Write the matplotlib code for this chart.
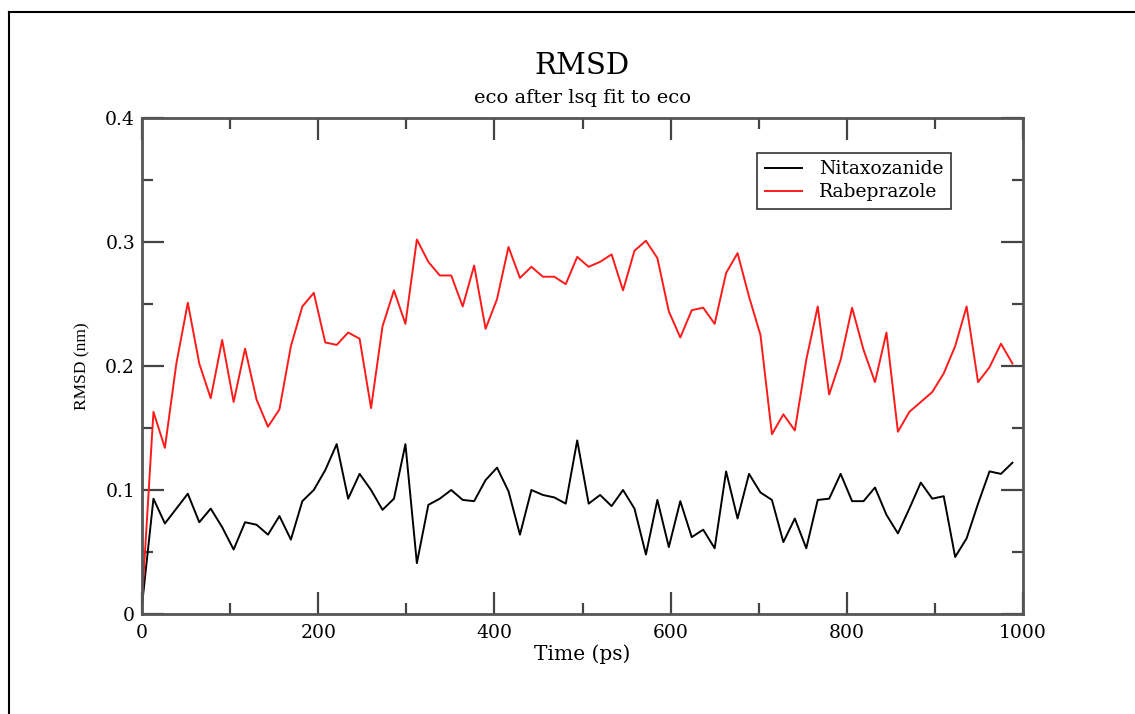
import numpy as np
import matplotlib.pyplot as plt
from matplotlib.lines import Line2D
from matplotlib.ticker import FixedLocator

plt.rcParams['font.family'] = ['DejaVu Serif']

# frames written every 13 ps
time_ps = np.arange(0, 989, 13)

nitaxozanide = [
    0.007, 0.093, 0.073, 0.085, 0.097, 0.074, 0.085, 0.070, 0.052, 0.074,
    0.072, 0.064, 0.079, 0.060, 0.091, 0.100, 0.116, 0.137, 0.093, 0.113,
    0.100, 0.084, 0.093, 0.137, 0.041, 0.088, 0.093, 0.100, 0.092, 0.091,
    0.108, 0.118, 0.099, 0.064, 0.100, 0.096, 0.094, 0.089, 0.140, 0.089,
    0.096, 0.087, 0.100, 0.085, 0.048, 0.092, 0.054, 0.091, 0.062, 0.068,
    0.053, 0.115, 0.077, 0.113, 0.098, 0.092, 0.058, 0.077, 0.053, 0.092,
    0.093, 0.113, 0.091, 0.091, 0.102, 0.080, 0.065, 0.085, 0.106, 0.093,
    0.095, 0.046, 0.061, 0.089, 0.115, 0.113, 0.122,
]

rabeprazole = [
    0.010, 0.163, 0.134, 0.202, 0.251, 0.202, 0.174, 0.221, 0.171, 0.214,
    0.173, 0.151, 0.165, 0.216, 0.248, 0.259, 0.219, 0.217, 0.227, 0.222,
    0.166, 0.232, 0.261, 0.234, 0.302, 0.284, 0.273, 0.273, 0.248, 0.281,
    0.230, 0.254, 0.296, 0.271, 0.280, 0.272, 0.272, 0.266, 0.288, 0.280,
    0.284, 0.290, 0.261, 0.293, 0.301, 0.287, 0.244, 0.223, 0.245, 0.247,
    0.234, 0.275, 0.291, 0.256, 0.225, 0.145, 0.161, 0.148, 0.205, 0.248,
    0.177, 0.205, 0.247, 0.213, 0.187, 0.227, 0.147, 0.163, 0.171, 0.179,
    0.194, 0.216, 0.248, 0.187, 0.199, 0.218, 0.202,
]

x_ticks = [0, 200, 400, 600, 800, 1000]
x_minor = [100, 300, 500, 700, 900]
y_ticks = [0, 0.1, 0.2, 0.3, 0.4]
y_tick_labels = ['0', '0.1', '0.2', '0.3', '0.4']
y_minor = [0.05, 0.15, 0.25, 0.35]

W, H = 1135, 714
fig = plt.figure(figsize=(W / 100, H / 100), dpi=100)
ax = fig.add_axes([142 / W, 1 - 614 / H, (1023 - 142) / W, (614 - 118) / H])

ax.plot(time_ps, nitaxozanide, color='black', lw=1.4, label='Nitaxozanide')
ax.plot(time_ps, rabeprazole, color='#ff1a1a', lw=1.4, label='Rabeprazole')

ax.set_xlim(0, 1000)
ax.set_ylim(0, 0.4)
ax.set_xticks(x_ticks)
ax.set_xticklabels([str(t) for t in x_ticks])
ax.xaxis.set_minor_locator(FixedLocator(x_minor))
ax.set_yticks(y_ticks)
ax.set_yticklabels(y_tick_labels)
ax.yaxis.set_minor_locator(FixedLocator(y_minor))

for side in ax.spines.values():
    side.set_color('#555555')
    side.set_linewidth(2)
ax.tick_params(which='both', direction='in', top=True, right=True,
               color='#444444', width=1.6)
ax.tick_params(which='major', length=16, labelsize=13.5)
ax.tick_params(which='minor', length=8)
ax.tick_params(axis='x', pad=7)
ax.tick_params(axis='y', pad=5)

ax.set_xlabel('Time (ps)', fontsize=14.5, labelpad=2)
ax.set_ylabel('RMSD (nm)', fontsize=12.5, family='Liberation Serif', labelpad=11)

fig.text(582 / W, 1 - 66 / H, 'RMSD', ha='center', va='center', fontsize=21)
fig.text(582 / W, 1 - 98 / H, 'eco after lsq fit to eco', ha='center',
         va='center', fontsize=14)

leg = ax.legend(loc='upper left', bbox_to_anchor=(757 / W, 1 - 153 / H),
                bbox_transform=fig.transFigure, borderaxespad=0,
                fontsize=13.5, fancybox=False, framealpha=1,
                edgecolor='#333333', handlelength=2.0, handletextpad=0.9,
                labelspacing=0.25, borderpad=0.4)
leg.get_frame().set_linewidth(1.2)

# page border around the plot
fig.add_artist(Line2D([9 / W, 9 / W], [0, 1 - 12 / H], color='black', lw=1.5))
fig.add_artist(Line2D([9 / W, 1], [1 - 12 / H, 1 - 12 / H], color='black', lw=1.5))

fig.savefig('out.png', dpi=100, facecolor='white')
